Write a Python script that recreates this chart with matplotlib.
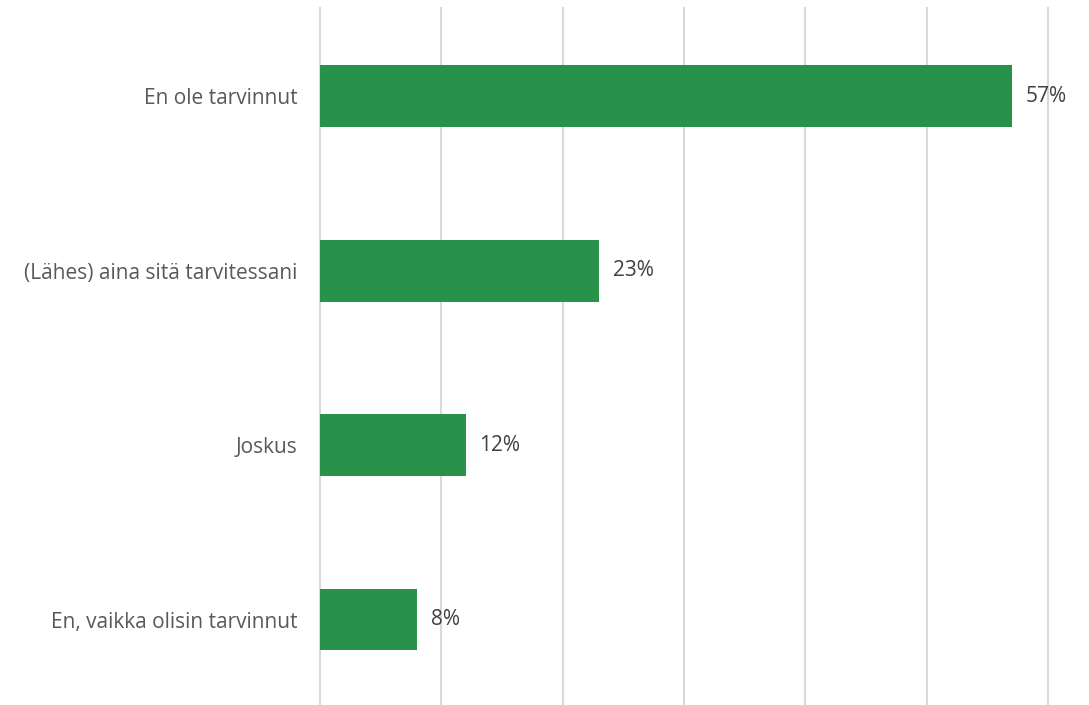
import matplotlib
matplotlib.use("Agg")
import matplotlib.pyplot as plt

categories = ["En ole tarvinnut", "(Lähes) aina sitä tarvitessani", "Joskus", "En, vaikka olisin tarvinnut"]
values = [57, 23, 12, 8]
value_labels = ["57%", "23%", "12%", "8%"]

plt.rcParams["font.family"] = ["Open Sans", "DejaVu Sans"]

fig = plt.figure(figsize=(10.89, 7.05), dpi=100)
ax = fig.add_axes([320 / 1089, 0, (1048 - 320) / 1089, 1 - 8 / 705])

pos = list(range(len(categories)))
ax.barh(pos, values, height=0.355, color="#28924A", zorder=3)

for p, v, lab in zip(pos, values, value_labels):
    ax.annotate(lab, xy=(v, p), xytext=(10, 0), textcoords="offset points",
                va="center", ha="left", fontsize=15, color="#404040")

ax.set_xlim(0, 60)
ax.set_ylim(3.49, -0.505)
ax.set_xticks(range(0, 61, 10))
ax.set_xticklabels([])
ax.tick_params(axis="x", length=0)
ax.grid(axis="x", color="#D9D9D9", linewidth=1.5, zorder=0)
for gl in ax.get_xgridlines():
    gl.set_clip_on(False)

ax.set_yticks(pos)
ax.set_yticklabels(categories, fontsize=15, color="#595959")
ax.tick_params(axis="y", length=0, pad=16)

for s in ax.spines.values():
    s.set_visible(False)

fig.savefig("out.png", dpi=100)
